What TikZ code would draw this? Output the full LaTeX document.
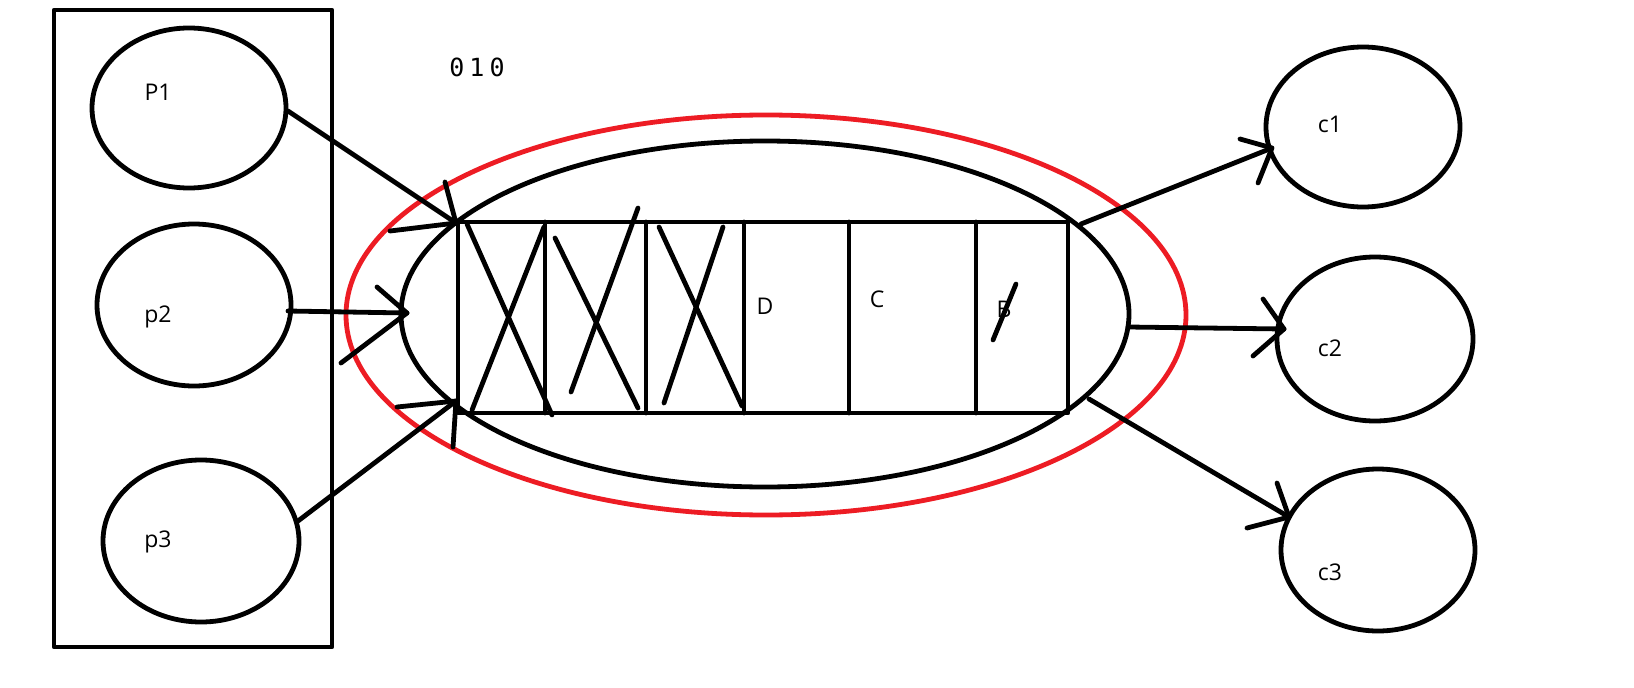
\documentclass[tikz,border=0pt]{standalone}
\usepackage{fontspec}
\setmainfont{Open Sans}
\newfontfamily\monofont{DejaVu Sans Mono}
\usetikzlibrary{shapes.geometric}
\definecolor{paintred}{RGB}{237,28,36}
\tikzset{
  ln/.style={line width=4.8pt, line cap=round, line join=round},
  oval/.style={draw, ln, ellipse, inner sep=0pt},
  lbl/.style={font=\fontsize{23}{26}\selectfont, inner sep=0pt},
}
\begin{document}
\begin{tikzpicture}[x=1pt,y=-1pt]
\useasboundingbox (0,0) rectangle (1634,688);
\fill[white] (0,0) rectangle (1634,688);
% producer box
\node[draw, ln, line cap=butt, minimum width=278pt, minimum height=637pt, inner sep=0pt] (pbox) at (193,328.5) {};
% producers
\node[oval, minimum width=194pt, minimum height=160pt] (p1) at (189,108) {};
\node[oval, minimum width=194pt, minimum height=162pt] (p2) at (194,305) {};
\node[oval, minimum width=196pt, minimum height=162pt] (p3) at (201,541) {};
\node[lbl] (p1t) at (158,92) {P1};
\node[lbl] (p2t) at (158,317) {p2};
\node[lbl] (p3t) at (158,542) {p3};
% consumers
\node[oval, minimum width=194pt, minimum height=160pt] (c1) at (1363,127) {};
\node[oval, minimum width=196pt, minimum height=164pt] (c2) at (1375,339) {};
\node[oval, minimum width=194pt, minimum height=162pt] (c3) at (1378,550) {};
\node[lbl] (c1t) at (1330,124) {c1};
\node[lbl] (c2t) at (1330,348) {c2};
\node[lbl] (c3t) at (1330,572) {c3};
% queue ellipses
\node[oval, draw=paintred, minimum width=840pt, minimum height=400pt] (red) at (766,315) {};
\node[oval, minimum width=728pt, minimum height=346pt] (queue) at (765,314) {};
% buffer rectangle
\node[draw, ln, minimum width=610pt, minimum height=191pt, inner sep=0pt] (buf) at (763,317.5) {};
\foreach \x in {545,646,744,849,976}
  \draw[ln] (\x,222) -- (\x,413);
% crossed cells
\draw[ln] (467,224) -- (552,415);
\draw[ln] (544,227) -- (472,410);
\draw[ln] (555,238) -- (638,408);
\draw[ln] (638,208) -- (571,392);
\draw[ln] (659,227) -- (742,406);
\draw[ln] (723,227) -- (664,403);
% letters
\node[lbl] (D) at (765,306) {D};
\node[lbl] (C) at (877,299) {C};
\node[lbl] (B) at (1004,309) {B};
\draw[ln] (1016,284) -- (993,340);
% 0 1 0
\node[font=\monofont\fontsize{25}{28}\selectfont, inner sep=0pt] (bits) at (477,67) {0\hspace{5pt}1\hspace{5pt}0};
% incoming arrows
\coordinate (a1s) at (288,111); \coordinate (a1e) at (456,223);
\coordinate (a2s) at (288,311); \coordinate (a2e) at (407,313);
\coordinate (a3s) at (298,521); \coordinate (a3e) at (456,401);
\draw[ln] (a1s) -- (a1e);
\draw[ln] (445,182) -- (a1e) -- (390,231);
\draw[ln] (a2s) -- (a2e);
\draw[ln] (377,287) -- (a2e) -- (341,363);
\draw[ln] (a3s) -- (a3e);
\draw[ln] (397,407) -- (a3e) -- (453,447);
% outgoing arrows
\coordinate (b1s) at (1081,224); \coordinate (b1e) at (1272,148);
\coordinate (b2s) at (1128,327); \coordinate (b2e) at (1284,329);
\coordinate (b3s) at (1089,399); \coordinate (b3e) at (1289,517);
\draw[ln] (b1s) -- (b1e);
\draw[ln] (1240,139) -- (b1e) -- (1258,183);
\draw[ln] (b2s) -- (b2e);
\draw[ln] (1263,299) -- (b2e) -- (1253,356);
\draw[ln] (b3s) -- (b3e);
\draw[ln] (1277,483) -- (b3e) -- (1247,528);
\end{tikzpicture}
\end{document}
